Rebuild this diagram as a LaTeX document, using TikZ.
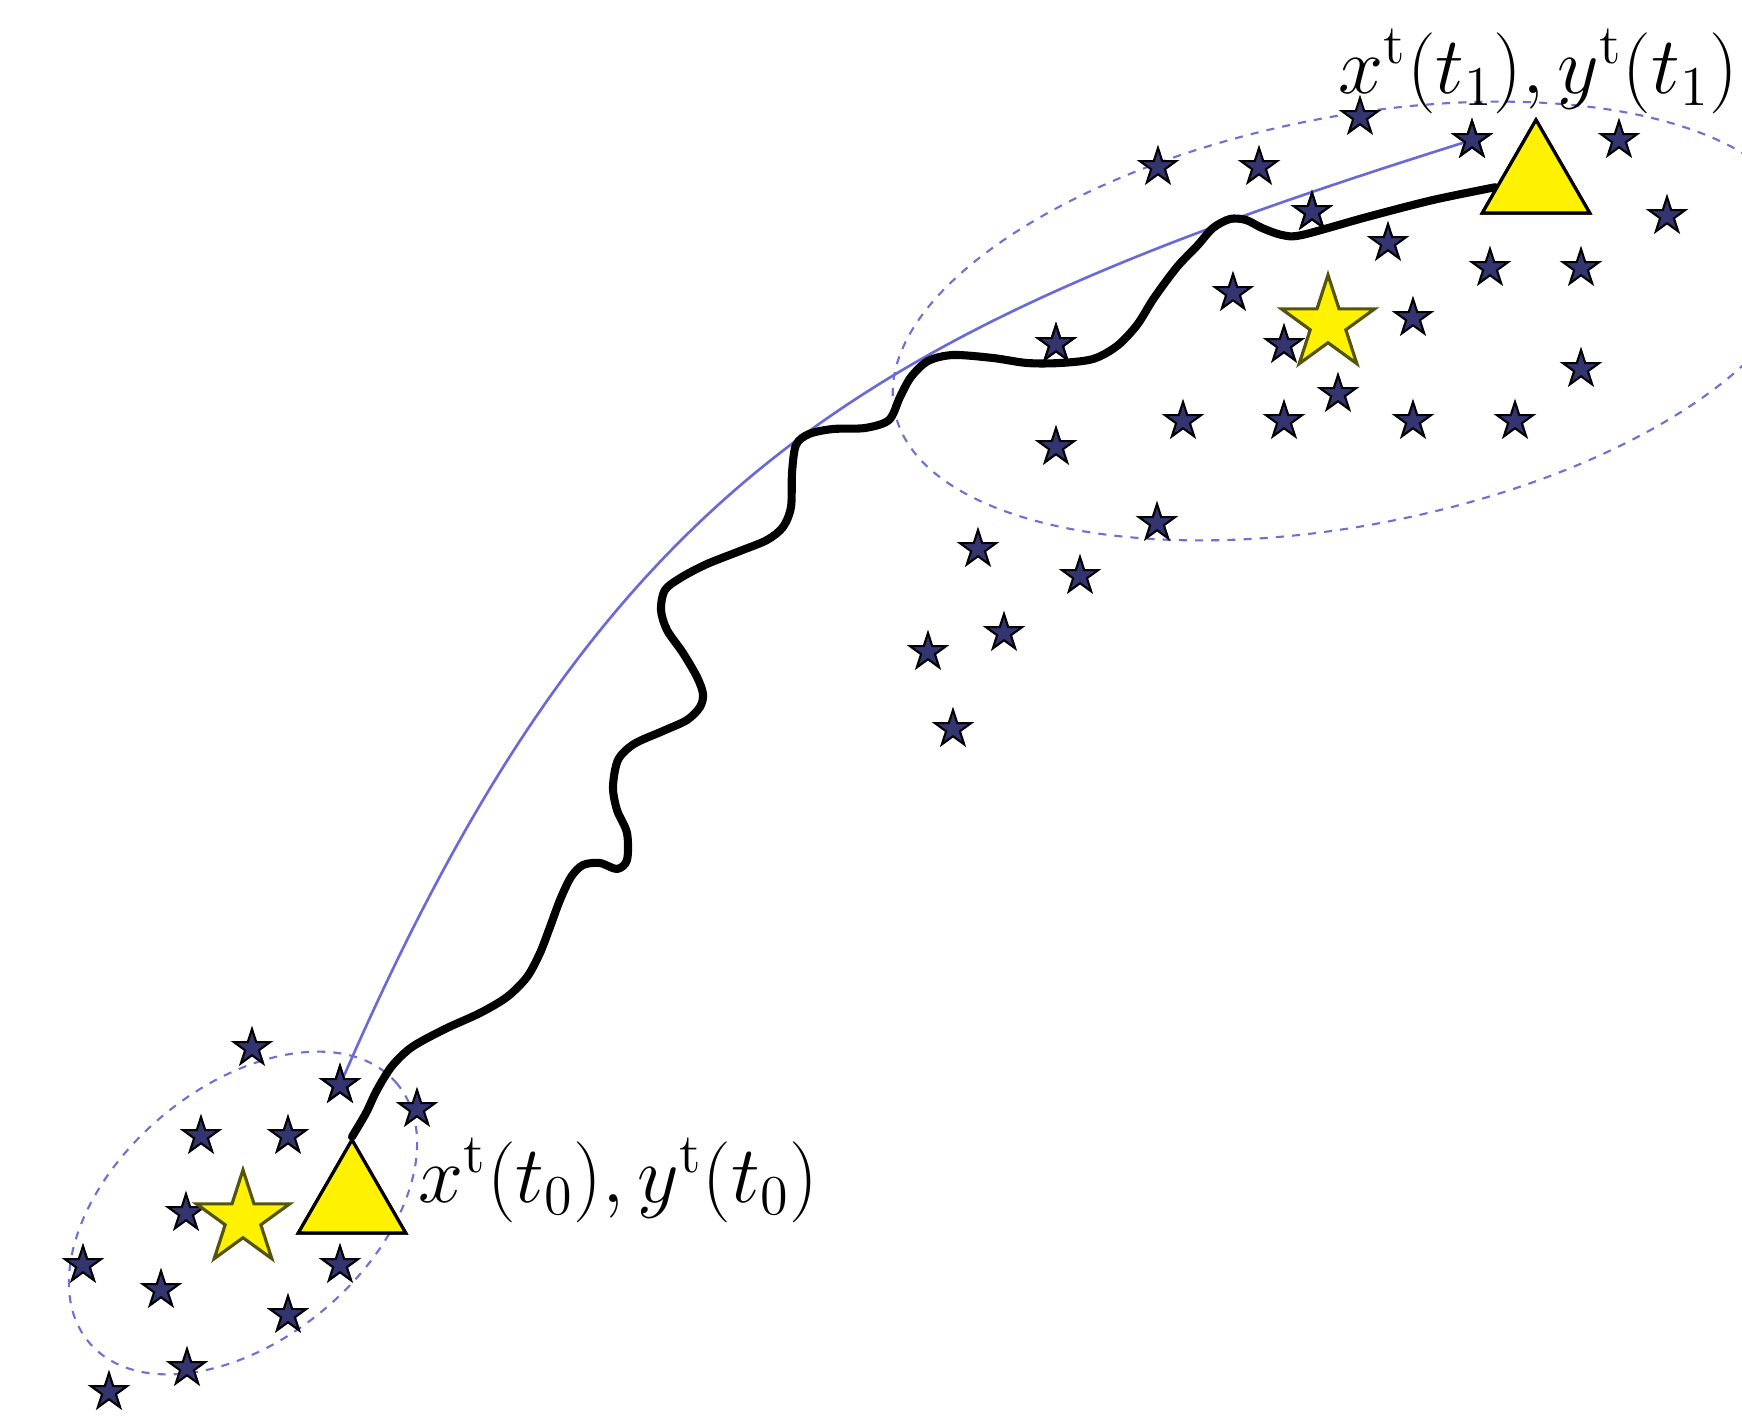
\documentclass[tikz,border=0pt]{standalone}
\usepackage{graphicx}
\usetikzlibrary{shapes.geometric,calc}
\definecolor{navy}{RGB}{52,52,112}
\definecolor{ellcol}{RGB}{112,112,212}
\definecolor{curvecol}{RGB}{105,105,218}
\definecolor{starline}{RGB}{85,85,10}
\newcommand{\biglabel}[1]{\scalebox{1.11}{\fontsize{20.74}{25}\selectfont #1}}
\begin{document}
\begin{tikzpicture}[x=0.01cm,y=-0.01cm,
  smallstar/.style={star,star points=5,star point ratio=2.618,minimum size=0.38cm,inner sep=0pt,fill=navy,draw=black,line width=0.6pt},
  bigstar/.style={star,star points=5,star point ratio=2.618,minimum size=0.98cm,inner sep=0pt,fill=yellow,draw=starline,line width=0.9pt},
  tri/.style={regular polygon,regular polygon sides=3,minimum size=1.24cm,inner sep=0pt,fill=yellow,draw=black,line width=0.9pt},
  region/.style={draw=ellcol,line width=0.6pt,dash pattern=on 2.3pt off 2.3pt},
  trajectory/.style={draw=black,line width=2.3pt,line cap=round,line join=round},
  geodesic/.style={draw=curvecol,line width=0.75pt},
  lbl/.style={inner sep=0pt,anchor=base west}]
\useasboundingbox (0,0) rectangle (1742,1418);
\clip (0,0) rectangle (1742,1418);
\fill[white] (0,0) rectangle (1742,1418);
% regions
\draw[region, rotate around={40:(243,1213)}] (243,1213) ellipse [x radius=2.01cm, y radius=1.26cm];
\draw[region, rotate around={11.1:(1350,321)}] (1350,321) ellipse [x radius=4.64cm, y radius=2.04cm];
% lower cluster stars
\node[smallstar] (l1) at (252,1048) {};
\node[smallstar] (l2) at (340,1085) {};
\node[smallstar] (l3) at (417,1109) {};
\node[smallstar] (l4) at (201,1136) {};
\node[smallstar] (l5) at (288,1136) {};
\node[smallstar] (l6) at (186,1213) {};
\node[smallstar] (l7) at (83,1265) {};
\node[smallstar] (l8) at (161,1290) {};
\node[smallstar] (l9) at (340,1265) {};
\node[smallstar] (l10) at (288,1315) {};
\node[smallstar] (l11) at (187,1368) {};
\node[smallstar] (l12) at (109,1392) {};
% upper cluster stars
\node[smallstar] (u1) at (1158,167) {};
\node[smallstar] (u2) at (1259,167) {};
\node[smallstar] (u3) at (1360,117) {};
\node[smallstar] (u4) at (1472,140) {};
\node[smallstar] (u5) at (1619,140) {};
\node[smallstar] (u6) at (1667,216) {};
\node[smallstar] (u7) at (1312,212) {};
\node[smallstar] (u8) at (1388,243) {};
\node[smallstar] (u9) at (1233,293) {};
\node[smallstar] (u10) at (1413,318) {};
\node[smallstar] (u11) at (1490,268) {};
\node[smallstar] (u12) at (1581,268) {};
\node[smallstar] (u13) at (1284,345) {};
\node[smallstar] (u14) at (1056,344) {};
\node[smallstar] (u15) at (1338,394) {};
\node[smallstar] (u16) at (1581,369) {};
\node[smallstar] (u17) at (1183,421) {};
\node[smallstar] (u18) at (1284,421) {};
\node[smallstar] (u19) at (1413,421) {};
\node[smallstar] (u20) at (1515,421) {};
\node[smallstar] (u21) at (1056,447) {};
\node[smallstar] (u22) at (1157,523) {};
\node[smallstar] (u23) at (978,549) {};
\node[smallstar] (u24) at (1080,576) {};
\node[smallstar] (u25) at (1004,633) {};
\node[smallstar] (u26) at (928,652) {};
\node[smallstar] (u27) at (953,729) {};
% triangles (positions of the object)
\node[tri] (tA) at (352,1202) {};
\node[tri] (tB) at (1536,182) {};
\coordinate (tBin) at ($(tB.corner 1)!0.72!(tB.corner 2)$);
% geodesic curve
\draw[geodesic] (l2.center) .. controls (604,475) and (865,330) .. (u4.center);
% trajectory
\draw[trajectory] plot[smooth] coordinates {(tA.corner 1) (366,1113) (377,1090) (392,1066) (412,1047) (445,1029) (480,1013) (507,997) (527,977) (540,953) (550,927) (560,900) (571,877) (583,865) (600,863) (617,869) (627,860) (627,833) (617,810) (613,787) (618,760) (634,744) (663,731) (687,720) (700,707) (703,694) (697,677) (683,653) (667,630) (661,610) (665,590) (682,577) (707,564) (740,551) (767,540) (783,527) (791,507) (792,473) (796,445) (809,434) (833,429) (865,428) (889,420) (900,397) (911,377) (928,361) (953,355) (993,358) (1027,363) (1060,363) (1093,359) (1117,346) (1137,325) (1154,298) (1177,267) (1197,246) (1213,228) (1230,219) (1246,220) (1262,228) (1282,235) (1302,235) (1367,217) (1433,200) (tBin)};
% redraw stars that sit above the lines
\node[smallstar] at (l2) {};
\node[smallstar] at (u4) {};
\node[smallstar] at (u14) {};
\node[smallstar] at (u7) {};
% big stars and triangles on top
\node[bigstar] (bA) at (243,1219) {};
\node[bigstar] (bB) at (1328,324) {};
\node[tri] at (tA) {};
\node[tri] at (tB) {};
% labels
\node[lbl] (lab0) at (418,1202) {\biglabel{$x^{\mathrm{t}}(t_0), y^{\mathrm{t}}(t_0)$}};
\node[lbl] (lab1) at (1338,93) {\biglabel{$x^{\mathrm{t}}(t_1), y^{\mathrm{t}}(t_1)$}};
\end{tikzpicture}
\end{document}
